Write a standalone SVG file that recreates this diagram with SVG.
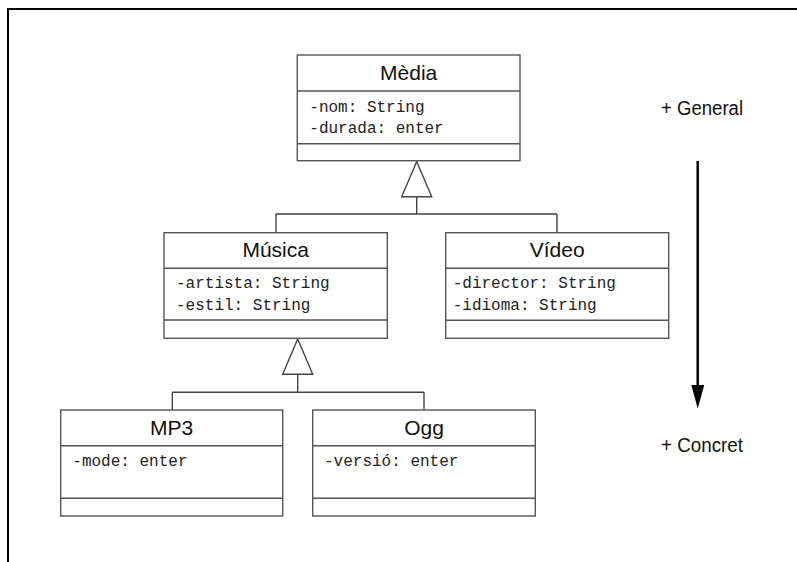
<svg xmlns="http://www.w3.org/2000/svg" width="797" height="562" viewBox="0 0 797 562">
<style>
.box{fill:#fff;stroke:#555;stroke-width:1.4}
.sep{stroke:#555;stroke-width:1.4;fill:none}
.title{font-family:"Liberation Sans",Arial,sans-serif;font-size:21px;fill:#111;text-anchor:middle}
.attr{font-family:"Liberation Mono","Courier New",monospace;font-size:16px;fill:#222}
.conn{stroke:#444;stroke-width:1.4;fill:none}
.tri{fill:#fff;stroke:#444;stroke-width:1.4}
.lbl{font-family:"Liberation Sans",Arial,sans-serif;font-size:20px;fill:#111}
</style>
<defs>
<marker id="ah" markerWidth="6" markerHeight="10" refX="5.5" refY="5" orient="auto" markerUnits="userSpaceOnUse" viewBox="0 0 6 10">
</marker>
</defs>
<rect width="797" height="562" fill="#fff"/>
<g id="frame">
<path d="M8 562 V9 H797" fill="none" stroke="#000" stroke-width="2"/>
</g>
<g id="connectors">
<polygon class="tri" points="416.7,161.5 401.7,196.7 431.7,196.7"/>
<path class="conn" d="M416.7 196.7 V214 M276 214 H557 M276 214 V232.7 M557 214 V232.7"/>
<polygon class="tri" points="297.7,339 282.7,374.3 312.7,374.3"/>
<path class="conn" d="M297.7 374.3 V392.3 M172.3 392.3 H424 M172.3 392.3 V410 M424 392.3 V410"/>
<line x1="697.7" y1="161" x2="697.7" y2="386" stroke="#000" stroke-width="2.5"/>
<polygon points="691.3,385 704.3,385 697.7,408.5" fill="#000"/>
</g>
<g id="media">
<rect class="box" x="297.3" y="55" width="222.7" height="105.7"/>
<path class="sep" d="M297.3 91 H520 M297.3 143.7 H520"/>
<text class="title" x="408.7" y="80">Mèdia</text>
<text class="attr" x="309.3" y="111.7">-nom: String</text>
<text class="attr" x="309.3" y="132.7">-durada: enter</text>
</g>
<g id="musica">
<rect class="box" x="164" y="232.7" width="223.3" height="105.6"/>
<path class="sep" d="M164 268.3 H387.3 M164 320 H387.3"/>
<text class="title" x="275.7" y="257.3">Música</text>
<text class="attr" x="176" y="288.3">-artista: String</text>
<text class="attr" x="176" y="310">-estil: String</text>
</g>
<g id="video">
<rect class="box" x="445.7" y="232.7" width="223" height="105.6"/>
<path class="sep" d="M445.7 268.3 H668.7 M445.7 320.3 H668.7"/>
<text class="title" x="557.2" y="257">Vídeo</text>
<text class="attr" x="452.7" y="288.3">-director: String</text>
<text class="attr" x="452.7" y="310">-idioma: String</text>
</g>
<g id="mp3">
<rect class="box" x="60.7" y="410" width="222" height="106"/>
<path class="sep" d="M60.7 445.7 H282.7 M60.7 498.3 H282.7"/>
<text class="title" x="171.7" y="435">MP3</text>
<text class="attr" x="72.3" y="466">-mode: enter</text>
</g>
<g id="ogg">
<rect class="box" x="312.7" y="410" width="222.6" height="106"/>
<path class="sep" d="M312.7 445.7 H535.3 M312.7 498.3 H535.3"/>
<text class="title" x="424" y="435">Ogg</text>
<text class="attr" x="324" y="466">-versió: enter</text>
</g>
<g id="labels">
<text class="lbl" x="661" y="115" textLength="82" lengthAdjust="spacingAndGlyphs">+ General</text>
<text class="lbl" x="661" y="451.7" textLength="82" lengthAdjust="spacingAndGlyphs">+ Concret</text>
</g>
</svg>
